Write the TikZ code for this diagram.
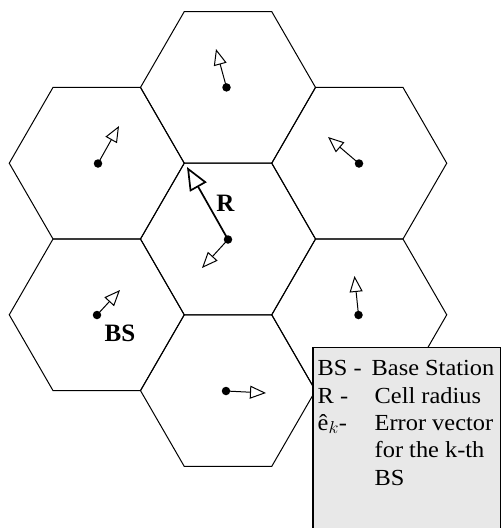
\documentclass[tikz,border=0pt]{standalone}
\usepackage{fontspec}
\usepackage{graphicx}
\setmainfont{Liberation Serif}
\usetikzlibrary{arrows.meta}
\newcommand{\widetext}[1]{\scalebox{1.06}[1]{#1}}
\begin{document}
\begin{tikzpicture}[x=1pt,y=-1pt,
  hexline/.style={line width=1pt, line join=miter},
  dot/.style={circle, fill=black, inner sep=0pt, minimum size=8.5pt},
  vec/.style={line width=1pt, -{Triangle[open, length=16pt, width=13pt, line width=1pt]}},
  bigvec/.style={line width=1.7pt, -{Triangle[open, length=23pt, width=19pt, line width=1.7pt]}},
  lbl/.style={font=\fontsize{25}{28}\selectfont\bfseries, inner sep=0pt, anchor=base},
  legtxt/.style={font=\fontsize{23}{26}\selectfont, inner sep=0pt, anchor=base west},
  legbox/.style={fill=black!9, draw=none}
]
\useasboundingbox (0,0) rectangle (501,528);
% hexagons
\foreach \x/\y in {228/239, 228/87.4, 96.75/163.2, 359.25/163.2, 96.75/314.8, 359.25/314.8, 228/390.6}{
  \draw[hexline] (\x,\y) +(0:87.5pt) -- +(60:87.5pt) -- +(120:87.5pt) -- +(180:87.5pt) -- +(240:87.5pt) -- +(300:87.5pt) -- cycle;
}
% base stations
\node[dot] (dC)  at (228,239.5) {};
\node[dot] (dT)  at (226.5,87.4) {};
\node[dot] (dUL) at (98,163.5) {};
\node[dot] (dUR) at (359,163.5) {};
\node[dot] (dLL) at (97,315) {};
\node[dot] (dLR) at (358.5,315) {};
\node[dot] (dB)  at (226,391) {};
% vector tips
\coordinate (tR)  at (187,167);
\coordinate (tC)  at (202,268);
\coordinate (tT)  at (216,49);
\coordinate (tUL) at (119,126);
\coordinate (tUR) at (328,137);
\coordinate (tLL) at (120,290);
\coordinate (tLR) at (354.5,276);
\coordinate (tB)  at (266,393);
\draw[bigvec] (dC.center) -- (tR);
\draw[vec] (dC.center) -- (tC);
\draw[vec] (dT.center) -- (tT);
\draw[vec] (dUL.center) -- (tUL);
\draw[vec] (dUR.center) -- (tUR);
\draw[vec] (dLL.center) -- (tLL);
\draw[vec] (dLR.center) -- (tLR);
\draw[vec] (dB.center) -- (tB);
% labels
\node[lbl] (lR) at (225.5,211) {R};
\node[lbl] (lBS) at (120,341) {BS};
% legend
\fill[legbox] (313,347.5) rectangle (501,528);
\draw[line width=1.2pt] (313,528) -- (313,347.5) -- (500.4,347.5) -- (500.4,528);
\node[legtxt] (k1) at (317.5,375) {\widetext{BS -}};
\node[legtxt] (v1) at (371.5,375) {\widetext{Base Station}};
\node[legtxt] (k2) at (317.5,403) {\widetext{R -}};
\node[legtxt] (v2) at (374.5,403) {\widetext{Cell radius}};
\node[legtxt] (k3) at (317.5,430) {\widetext{ê$_{k}$-}};
\node[legtxt] (v3) at (374.5,430) {\widetext{Error vector}};
\node[legtxt] (v4) at (374.5,457) {\widetext{for the k-th}};
\node[legtxt] (v5) at (374.5,485) {\widetext{BS}};
\end{tikzpicture}
\end{document}
